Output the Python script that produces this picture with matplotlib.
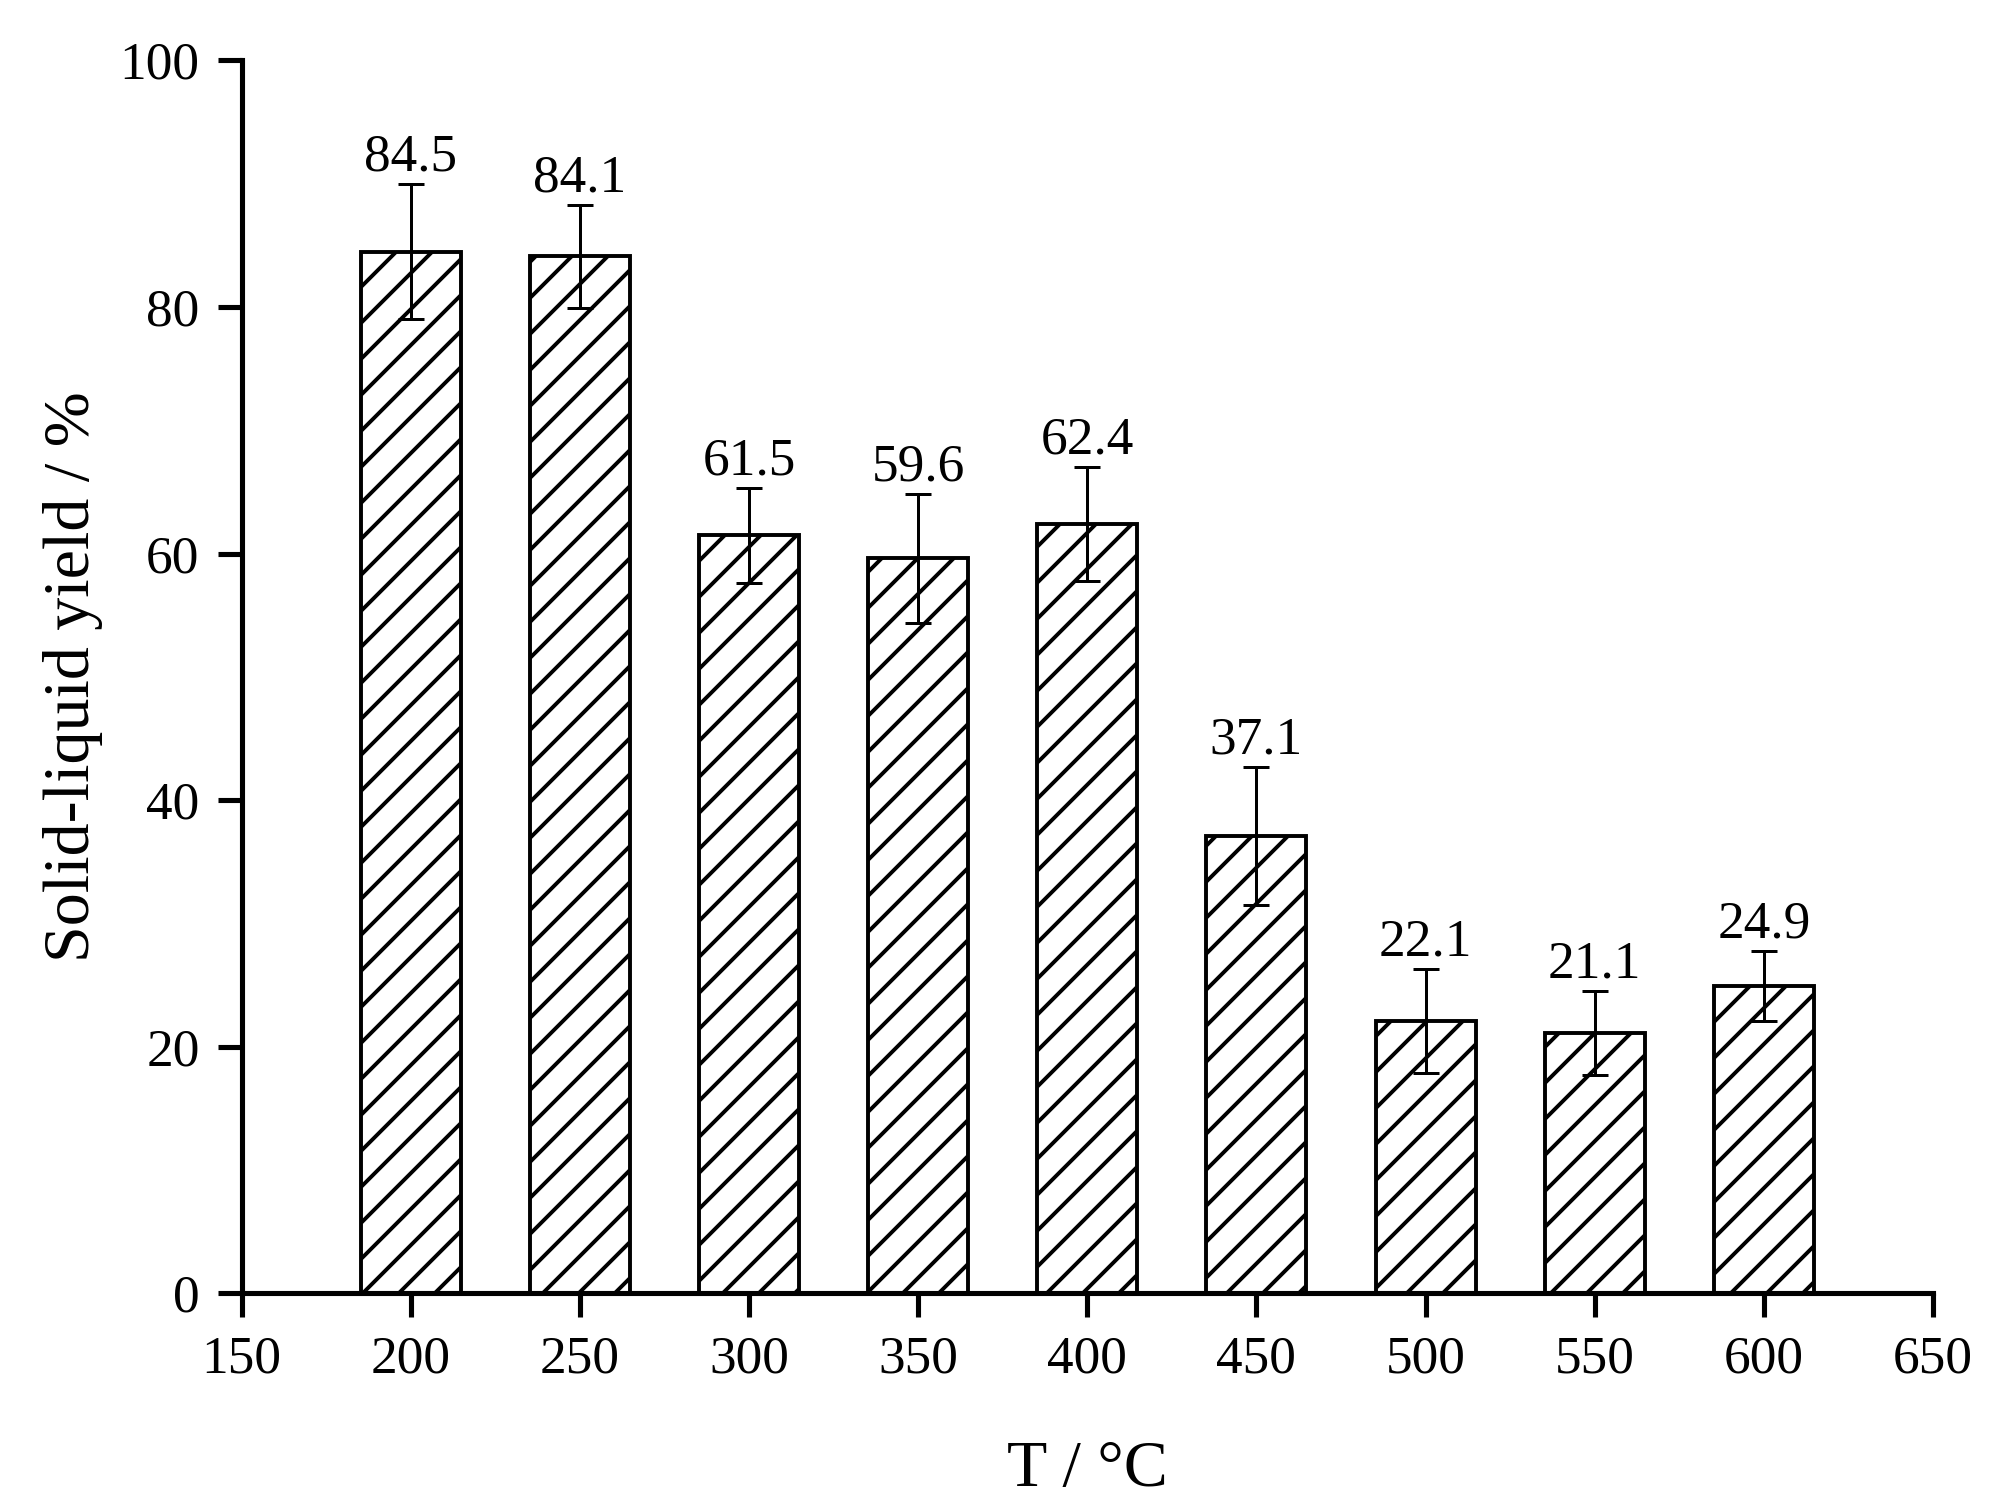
import matplotlib
matplotlib.use("Agg")
import matplotlib.pyplot as plt

temperatures = [200, 250, 300, 350, 400, 450, 500, 550, 600]
yields = [84.5, 84.1, 61.5, 59.6, 62.4, 37.1, 22.1, 21.1, 24.9]
errors = [5.5, 4.2, 3.85, 5.25, 4.6, 5.6, 4.2, 3.4, 2.85]
labels = ["84.5", "84.1", "61.5", "59.6", "62.4", "37.1", "22.1", "21.1", "24.9"]
x_ticks = [150, 200, 250, 300, 350, 400, 450, 500, 550, 600, 650]
y_ticks = [0, 20, 40, 60, 80, 100]

DPI = 216
plt.rcParams['font.family'] = ['Liberation Serif', 'DejaVu Serif']
plt.rcParams['hatch.linewidth'] = 1.3

fig = plt.figure(figsize=(1993 / DPI, 1510 / DPI), dpi=DPI)
ax = fig.add_axes([0.1212, 0.1435, 0.8487, 0.8165])

ax.bar(temperatures, yields, width=29.6, color='white', edgecolor='black',
       linewidth=1.3, hatch='//', zorder=2)
ax.errorbar(temperatures, yields, yerr=errors, fmt='none', ecolor='black',
            elinewidth=1.0, capsize=4.2, capthick=1.0, zorder=3)

for xv, yv, ev, lab in zip(temperatures, yields, errors, labels):
    ax.annotate(lab, (xv, yv + ev), xytext=(0, 4.5), textcoords='offset points',
                ha='center', va='baseline', fontsize=17.8)

ax.set_xlim(150, 650)
ax.set_ylim(0, 100)
ax.set_xticks(x_ticks)
ax.set_yticks(y_ticks)
ax.spines['top'].set_visible(False)
ax.spines['right'].set_visible(False)
for s in ('left', 'bottom'):
    ax.spines[s].set_linewidth(1.7)
ax.tick_params(axis='both', direction='out', length=8, width=1.7, labelsize=17.8, pad=6)

ax.set_xlabel('T / °C', fontsize=22, labelpad=19)
ax.set_ylabel('Solid-liquid yield / %', fontsize=22, labelpad=5.5)

fig.savefig('out.png', dpi=DPI)
